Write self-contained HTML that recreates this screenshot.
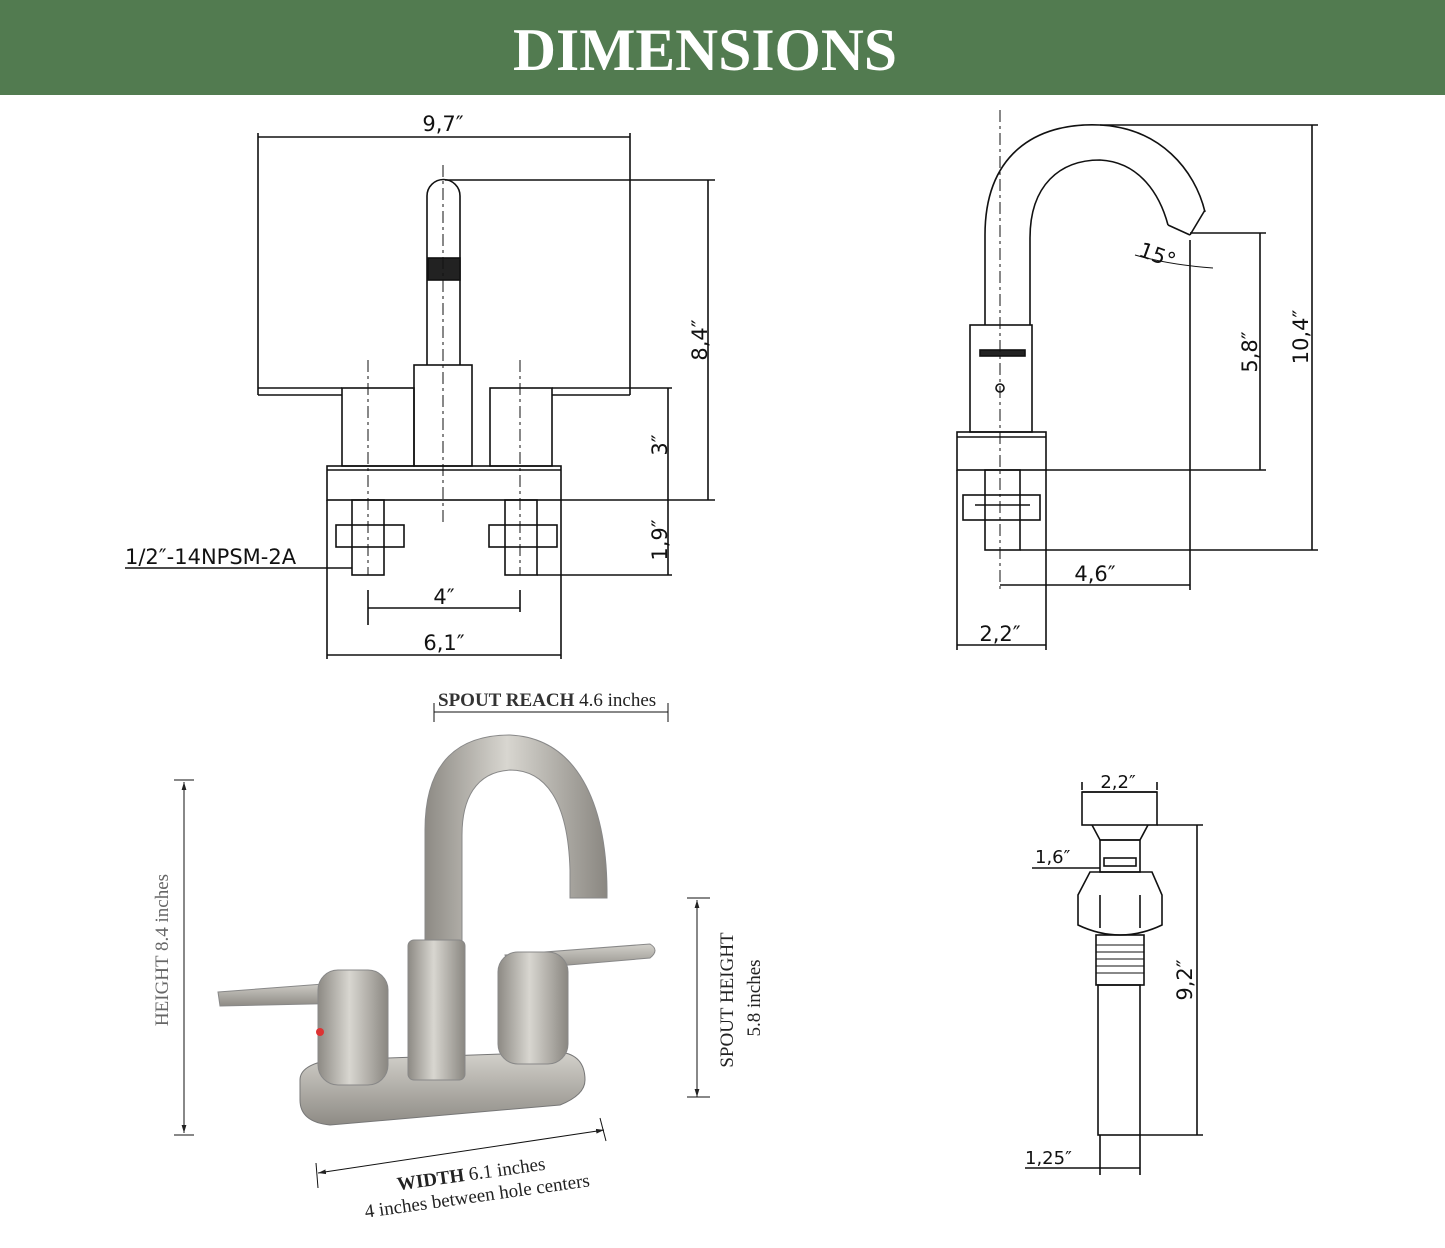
<!DOCTYPE html>
<html><head><meta charset="utf-8"><style>
html,body{margin:0;padding:0;background:#fff}
svg{display:block}
.t{font-family:"DejaVu Sans","Liberation Sans",sans-serif;font-size:21px;fill:#111}
.s{font-family:"Liberation Serif",serif;font-size:19px;fill:#222}
</style></head><body>
<svg width="1445" height="1248" viewBox="0 0 1445 1248" xmlns="http://www.w3.org/2000/svg">
<defs>
<linearGradient id="m" x1="0" x2="1"><stop offset="0" stop-color="#8d8a84"/><stop offset=".45" stop-color="#d8d6d0"/><stop offset="1" stop-color="#8a8781"/></linearGradient>
<linearGradient id="m2" x1="0" y1="0" x2="0" y2="1"><stop offset="0" stop-color="#d3d1cb"/><stop offset="1" stop-color="#8e8b85"/></linearGradient>
<marker id="a" viewBox="0 0 10 10" refX="10" refY="5" markerWidth="8" markerHeight="8" orient="auto-start-reverse"><path d="M0,2 L10,5 L0,8z" fill="#222"/></marker>
</defs>
<rect x="0" y="0" width="1445" height="95" fill="#527b50"/>
<text x="513" y="70" textLength="384" lengthAdjust="spacingAndGlyphs" font-family="Liberation Serif,serif" font-size="60" font-weight="bold" fill="#fff">DIMENSIONS</text>

<g stroke="#111" stroke-width="1.6" fill="none">
<line x1="258" y1="137" x2="630" y2="137"/>
<line x1="258" y1="133" x2="258" y2="388"/><line x1="630" y1="133" x2="630" y2="388"/>
<line x1="258" y1="388" x2="342" y2="388"/><line x1="258" y1="388" x2="258" y2="395"/><line x1="258" y1="395" x2="342" y2="395"/>
<line x1="552" y1="388" x2="630" y2="388"/><line x1="552" y1="395" x2="630" y2="395"/><line x1="630" y1="388" x2="630" y2="395"/>
<rect x="342" y="388" width="72" height="78"/>
<rect x="490" y="388" width="62" height="78"/>
<path d="M427,365 V196 A16.5,16.5 0 0 1 460,196 V365"/>
<rect x="428" y="258" width="32" height="22" fill="#222"/>
<rect x="414" y="365" width="58" height="101"/>
<rect x="327" y="466" width="234" height="34"/><line x1="327" y1="470" x2="561" y2="470"/>
<rect x="352" y="500" width="32" height="75"/><rect x="336" y="525" width="68" height="22"/>
<rect x="505" y="500" width="32" height="75"/><rect x="489" y="525" width="68" height="22"/>
<line x1="445" y1="180" x2="715" y2="180"/><line x1="561" y1="500" x2="715" y2="500"/>
<line x1="708" y1="180" x2="708" y2="500"/>
<line x1="630" y1="388" x2="672" y2="388"/><line x1="668" y1="388" x2="668" y2="575"/>
<line x1="537" y1="575" x2="672" y2="575"/>
<line x1="368" y1="590" x2="368" y2="625"/><line x1="520" y1="590" x2="520" y2="612"/>
<line x1="368" y1="608" x2="520" y2="608"/>
<line x1="327" y1="500" x2="327" y2="659"/><line x1="561" y1="500" x2="561" y2="659"/>
<line x1="327" y1="655" x2="561" y2="655"/>
<line x1="125" y1="568" x2="352" y2="568"/>
<line x1="368" y1="360" x2="368" y2="575" stroke-dasharray="12,4,3,4" stroke-width="1"/>
<line x1="520" y1="360" x2="520" y2="575" stroke-dasharray="12,4,3,4" stroke-width="1"/>
<line x1="443" y1="165" x2="443" y2="525" stroke-dasharray="12,4,3,4" stroke-width="1"/>

<path d="M985,325 V235 C985,155 1035,122 1100,125 C1160,128 1195,170 1205,212"/>
<path d="M1030,325 V238 C1030,185 1060,160 1100,160 C1140,162 1160,195 1168,225"/>
<line x1="1168" y1="225" x2="1190" y2="235"/><line x1="1190" y1="235" x2="1205" y2="210"/>
<path d="M1135,255 Q1170,265 1213,268" stroke-width="1"/>
<rect x="970" y="325" width="62" height="107"/>
<rect x="980" y="350" width="45" height="6" fill="#222"/>
<circle cx="1000" cy="388" r="4"/>
<rect x="957" y="432" width="89" height="38"/><line x1="957" y1="437" x2="1046" y2="437"/>
<rect x="985" y="470" width="35" height="80"/>
<rect x="963" y="495" width="77" height="25"/><line x1="975" y1="505" x2="1030" y2="505"/>
<line x1="1000" y1="110" x2="1000" y2="590" stroke-dasharray="12,4,3,4" stroke-width="1"/>
<line x1="1100" y1="125" x2="1318" y2="125"/><line x1="1020" y1="550" x2="1318" y2="550"/>
<line x1="1312" y1="125" x2="1312" y2="550"/>
<line x1="1190" y1="233" x2="1266" y2="233"/><line x1="1046" y1="470" x2="1266" y2="470"/>
<line x1="1260" y1="233" x2="1260" y2="470"/>
<line x1="1190" y1="240" x2="1190" y2="590"/>
<line x1="1000" y1="585" x2="1190" y2="585"/>
<line x1="957" y1="470" x2="957" y2="650"/><line x1="1046" y1="470" x2="1046" y2="650"/>
<line x1="957" y1="645" x2="1046" y2="645"/>

<line x1="434" y1="712" x2="668" y2="712" stroke-width="1"/>
<line x1="434" y1="703" x2="434" y2="722" stroke-width="1"/><line x1="668" y1="703" x2="668" y2="722" stroke-width="1"/>
<line x1="184" y1="782" x2="184" y2="1133" stroke-width="1" marker-start="url(#a)" marker-end="url(#a)"/>
<line x1="174" y1="780" x2="194" y2="780" stroke-width="1"/><line x1="174" y1="1135" x2="194" y2="1135" stroke-width="1"/>
<line x1="697" y1="900" x2="697" y2="1097" stroke-width="1" marker-start="url(#a)" marker-end="url(#a)"/>
<line x1="687" y1="898" x2="710" y2="898" stroke-width="1"/><line x1="687" y1="1097" x2="710" y2="1097" stroke-width="1"/>
<line x1="318" y1="1173" x2="604" y2="1130" stroke-width="1" marker-start="url(#a)" marker-end="url(#a)"/>
<line x1="316" y1="1163" x2="318" y2="1188" stroke-width="1"/><line x1="600" y1="1118" x2="606" y2="1141" stroke-width="1"/>

<rect x="1082" y="792" width="75" height="33"/>
<path d="M1092,825 L1100,840 H1140 L1148,825"/>
<rect x="1100" y="840" width="40" height="32"/><rect x="1104" y="858" width="32" height="8"/>
<path d="M1090,872 H1152 L1162,895 V925 Q1120,945 1078,925 V895 Z"/>
<line x1="1100" y1="895" x2="1100" y2="928"/><line x1="1140" y1="895" x2="1140" y2="928"/>
<rect x="1096" y="935" width="48" height="50"/>
<path d="M1096,945 H1144 M1096,952 H1144 M1096,959 H1144 M1096,966 H1144 M1096,973 H1144" stroke-width="1"/>
<rect x="1098" y="985" width="42" height="150"/>
<line x1="1082" y1="790" x2="1082" y2="782"/><line x1="1157" y1="790" x2="1157" y2="782"/>
<line x1="1082" y1="792" x2="1157" y2="792"/>
<line x1="1157" y1="825" x2="1203" y2="825"/><line x1="1140" y1="1135" x2="1203" y2="1135"/>
<line x1="1197" y1="825" x2="1197" y2="1135"/>
<line x1="1032" y1="868" x2="1100" y2="868"/>
<line x1="1025" y1="1168" x2="1140" y2="1168"/>
<line x1="1100" y1="1135" x2="1100" y2="1175"/><line x1="1140" y1="1135" x2="1140" y2="1175"/>
</g>

<g>
<path d="M300,1080 Q300,1065 330,1060 L560,1052 Q585,1055 585,1080 Q585,1095 560,1105 L330,1125 Q300,1122 300,1100 Z" fill="url(#m2)" stroke="#777"/>
<path d="M425,945 V830 C425,760 460,735 510,735 C575,738 608,800 607,898 L570,898 L570,870 C568,800 545,770 510,770 C475,772 462,800 462,835 V945 Z" fill="url(#m)" stroke="#888"/>
<rect x="408" y="940" width="57" height="140" rx="6" fill="url(#m)" stroke="#888"/>
<path d="M218,992 L350,982 L355,1003 L220,1006 Z" fill="url(#m2)" stroke="#888"/>
<rect x="318" y="970" width="70" height="115" rx="20" fill="url(#m)" stroke="#888"/>
<circle cx="320" cy="1032" r="4" fill="#d33"/>
<path d="M505,955 L650,944 Q660,950 650,958 L510,970 Z" fill="url(#m2)" stroke="#888"/>
<rect x="498" y="952" width="70" height="112" rx="20" fill="url(#m)" stroke="#888"/>
</g>

<g class="t">
<text x="443" y="131" text-anchor="middle">9,7″</text>
<text transform="translate(707,340) rotate(-90)" text-anchor="middle">8,4″</text>
<text transform="translate(667,445) rotate(-90)" text-anchor="middle">3″</text>
<text transform="translate(667,540) rotate(-90)" text-anchor="middle">1,9″</text>
<text x="444" y="604" text-anchor="middle">4″</text>
<text x="444" y="650" text-anchor="middle">6,1″</text>
<text x="125" y="564">1/2″-14NPSM-2A</text>
<text transform="translate(1155,262) rotate(20)" text-anchor="middle">15°</text>
<text transform="translate(1257,352) rotate(-90)" text-anchor="middle">5,8″</text>
<text transform="translate(1308,337) rotate(-90)" text-anchor="middle">10,4″</text>
<text x="1095" y="581" text-anchor="middle">4,6″</text>
<text x="1000" y="641" text-anchor="middle">2,2″</text>
<text x="1118" y="788" text-anchor="middle" font-size="18">2,2″</text>
<text x="1035" y="863" font-size="18">1,6″</text>
<text transform="translate(1192,980) rotate(-90)" text-anchor="middle">9,2″</text>
<text x="1025" y="1164" font-size="18">1,25″</text>
</g>
<g class="s">
<text x="438" y="706"><tspan font-weight="bold" fill="#333">SPOUT REACH</tspan> 4.6 inches</text>
<text transform="translate(168,950) rotate(-90)" text-anchor="middle" fill="#666"><tspan>HEIGHT</tspan> 8.4 inches</text>
<text transform="translate(733,1000) rotate(-90)" text-anchor="middle">SPOUT HEIGHT</text>
<text transform="translate(760,998) rotate(-90)" text-anchor="middle">5.8 inches</text>
<text transform="translate(472,1180) rotate(-8)" text-anchor="middle"><tspan font-weight="bold">WIDTH</tspan> 6.1 inches</text>
<text transform="translate(478,1202) rotate(-8)" text-anchor="middle">4 inches between hole centers</text>
</g>
</svg>
</body></html>
